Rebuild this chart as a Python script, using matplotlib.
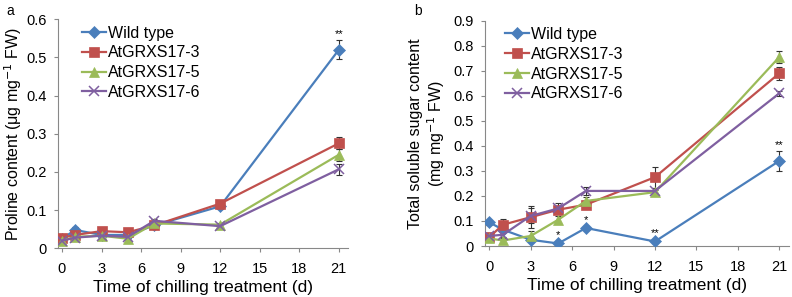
import matplotlib
matplotlib.use("Agg")
import matplotlib.pyplot as plt
import numpy as np

plt.rcParams['font.family'] = ['Liberation Sans', 'DejaVu Sans']

days = [0, 1, 3, 5, 7, 12, 21]
names = ['Wild type', 'AtGRXS17-3', 'AtGRXS17-5', 'AtGRXS17-6']
colors = ['#4a7ebb', '#c0504d', '#9bbb59', '#7f5fa0']
markers = ['D', 's', '^', 'x']
msizes = [6, 7, 7, 7]

# panel a: proline
pro_wt = [0.025, 0.048, 0.035, 0.035, 0.060, 0.110, 0.520]
pro_3 = [0.028, 0.035, 0.045, 0.042, 0.060, 0.117, 0.275]
pro_5 = [0.020, 0.030, 0.033, 0.025, 0.065, 0.062, 0.245]
pro_6 = [0.020, 0.028, 0.033, 0.030, 0.072, 0.058, 0.207]
pro_wt_err = [0.005, 0.008, 0.005, 0.005, 0.005, 0.008, 0.025]
pro_3_err = [0.004, 0.004, 0.004, 0.004, 0.005, 0.006, 0.016]
pro_5_err = [0.004, 0.004, 0.004, 0.004, 0.005, 0.005, 0.015]
pro_6_err = [0.004, 0.004, 0.004, 0.004, 0.005, 0.005, 0.014]

# panel b: total soluble sugar
sug_wt = [0.095, 0.065, 0.025, 0.010, 0.072, 0.018, 0.340]
sug_3 = [0.035, 0.085, 0.115, 0.145, 0.165, 0.275, 0.690]
sug_5 = [0.030, 0.022, 0.040, 0.105, 0.180, 0.215, 0.755]
sug_6 = [0.040, 0.045, 0.120, 0.150, 0.220, 0.220, 0.610]
sug_wt_err = [0.010, 0.010, 0.008, 0.010, 0.008, 0.008, 0.040]
sug_3_err = [0.015, 0.022, 0.045, 0.015, 0.012, 0.042, 0.025]
sug_5_err = [0.010, 0.010, 0.018, 0.015, 0.015, 0.010, 0.025]
sug_6_err = [0.010, 0.010, 0.030, 0.020, 0.016, 0.012, 0.010]

fig = plt.figure(figsize=(7.92, 2.97), dpi=100)
W, H = 792, 297
axa = fig.add_axes([58 / W, 1 - 248.3 / H, (348 - 58) / W, (248.3 - 19.3) / H])
axb = fig.add_axes([485 / W, 1 - 246 / H, (789 - 485) / W, (246 - 20.7) / H])


def draw(ax, series, errs, ymax, ystep, ylabel, legx, lpad):
    for i in range(4):
        ax.errorbar(days, series[i], yerr=errs[i], fmt='none', ecolor='#333333',
                    elinewidth=0.8, capsize=2, capthick=0.8, zorder=2)
        ax.plot(days, series[i], color=colors[i], lw=1.6,
                marker=markers[i], markersize=msizes[i],
                markeredgewidth=1.1 if markers[i] == 'x' else 0.5,
                label=names[i], zorder=3)
    ax.set_xlim(-0.3, 21.7)
    ax.set_ylim(0, ymax)
    ax.set_xticks(range(0, 22, 3))
    ax.set_yticks(np.arange(0, ymax + 1e-9, ystep))
    ax.set_yticklabels(['0'] + ['%.1f' % v for v in np.arange(ystep, ymax + 1e-9, ystep)])
    for s in ['top', 'right']:
        ax.spines[s].set_visible(False)
    for s in ['left', 'bottom']:
        ax.spines[s].set_color('#888888')
    ax.tick_params(axis='both', labelsize=10.5, color='#888888', length=3, pad=5)
    ax.tick_params(axis='x', pad=7)
    ax.set_xlabel('Time of chilling treatment (d)', fontsize=12.5, labelpad=3)
    ax.set_ylabel(ylabel, fontsize=11.5, labelpad=lpad, linespacing=1.1)
    ax.legend(loc='upper left', bbox_to_anchor=(legx, 1.0), frameon=False, fontsize=11.5,
              handlelength=1.5, labelspacing=0.3, handletextpad=0.15, borderaxespad=0)


draw(axa, [pro_wt, pro_3, pro_5, pro_6], [pro_wt_err, pro_3_err, pro_5_err, pro_6_err],
     0.6, 0.1, 'Proline content (μg mg$^{-1}$ FW)', 0.06, 2)
draw(axb, [sug_wt, sug_3, sug_5, sug_6], [sug_wt_err, sug_3_err, sug_5_err, sug_6_err],
     0.9, 0.1, 'Total soluble sugar content\n(mg mg$^{-1}$ FW)', 0.045, 5)

# significance marks
axa.text(21, 0.548, '**', ha='center', va='bottom', fontsize=8)
axb.text(5, 0.022, '*', ha='center', va='bottom', fontsize=8)
axb.text(7, 0.085, '*', ha='center', va='bottom', fontsize=8)
axb.text(12, 0.030, '**', ha='center', va='bottom', fontsize=8)
axb.text(21, 0.382, '**', ha='center', va='bottom', fontsize=8)

fig.text(6 / W, 1 - 11 / H, 'a', fontsize=10, va='center')
fig.text(414 / W, 1 - 11 / H, 'b', fontsize=10, va='center')

fig.savefig('out.png', dpi=100)
